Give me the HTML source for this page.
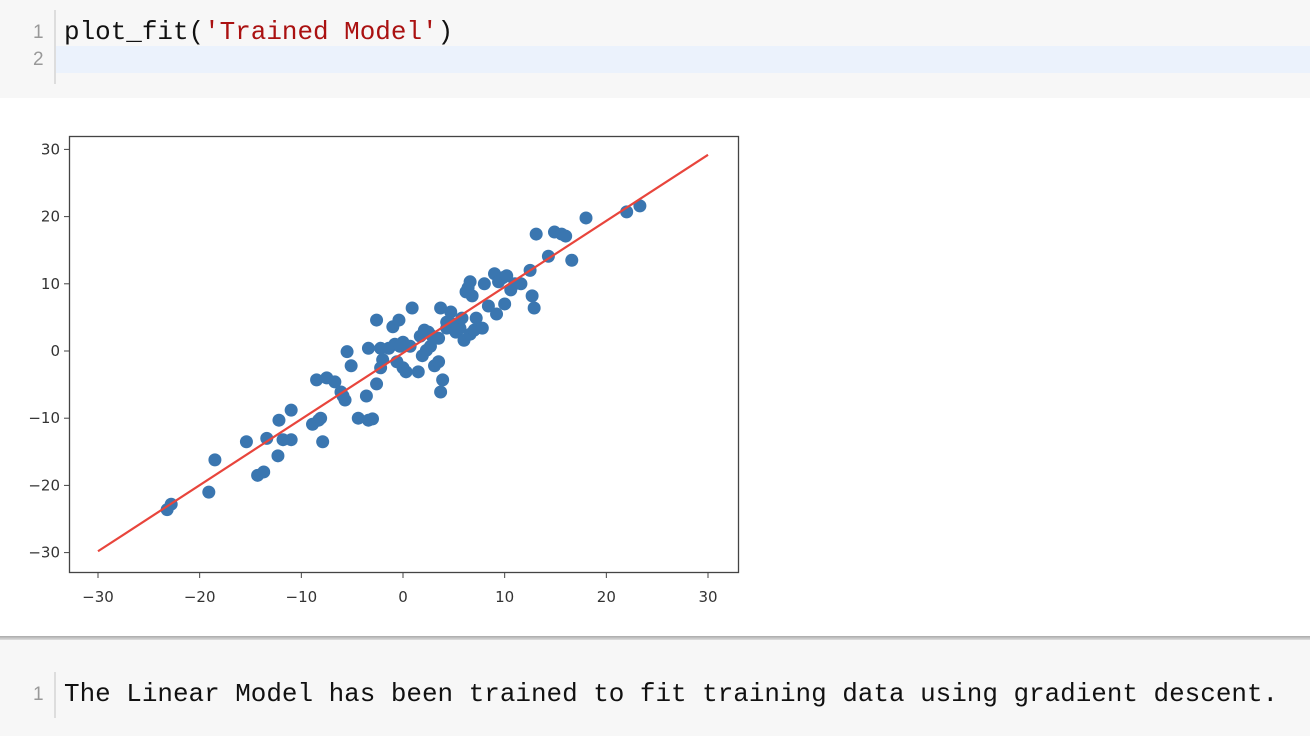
<!DOCTYPE html>
<html><head><meta charset="utf-8">
<style>
html,body{margin:0;padding:0;width:1310px;height:736px;overflow:hidden;background:#fff;font-family:"Liberation Sans",sans-serif}
.code{position:absolute;left:0;width:1310px;background:#f7f7f7;font-family:"Liberation Mono",monospace;font-size:25.95px}
.gut{position:absolute;left:54px;width:2px;background:#ddd}
.ln{position:absolute;left:33px;color:#999;font-size:19px;font-family:"Liberation Sans",sans-serif}
.txt{position:absolute;left:64px;color:#111;white-space:pre}
</style></head><body>
<div class="code" style="top:0;height:98px">
  <div style="position:absolute;left:56px;right:0;top:46px;height:27px;background:#ebf2fc"></div>
  <div class="gut" style="top:10px;height:74px"></div>
  <div class="ln" style="top:22px">1</div>
  <div class="ln" style="top:49px">2</div>
  <div class="txt" style="top:17px">plot_fit(<span style="color:#a11">'Trained Model'</span>)</div>
</div>
<div style="position:absolute;left:0;top:636px;width:1310px;height:4px;background:linear-gradient(#aaa,#ddd)"></div>
<div class="code" style="top:640px;height:96px">
  <div class="gut" style="top:32px;height:46px"></div>
  <div class="ln" style="top:44px">1</div>
  <div class="txt" style="top:39px">The Linear Model has been trained to fit training data using gradient descent.</div>
</div>
<svg id="chart" width="1310" height="636" style="position:absolute;left:0;top:0"></svg>
<script>
const xs=[-23.2,-22.8,-19.1,-18.5,-15.4,-14.3,-13.7,-13.4,-12.2,-12.3,-11.8,-11,-11,-8.9,-8.3,-8.1,-8.5,-7.9,-7.5,-6.7,-6.1,-5.9,-5.7,-5.5,-5.1,-4.4,-3.4,-3,-3.6,-3.4,-2.6,-2.6,-2.2,-2,-2.2,-1.4,-1,-0.4,-0.8,0,-0.3,-0.6,0,0.3,0.9,0.7,1.5,1.7,2.1,2.5,2.9,1.9,2.3,2.7,3.1,3.5,3.7,3.7,3.9,3.5,4.3,4.9,4.3,4.7,5.2,5.6,5.8,6,6.2,6.4,6.6,6.8,6.6,7,7.2,7.8,8,8.4,9,9.4,9.8,10.2,9.2,10,10.6,11,11.6,12.5,12.7,12.9,13.1,14.3,14.9,15.6,16,16.6,18,22,23.3];
const ys=[-23.6,-22.8,-21,-16.2,-13.5,-18.5,-18,-13,-10.3,-15.6,-13.2,-13.2,-8.8,-10.9,-10.3,-10,-4.3,-13.5,-4,-4.6,-6.1,-6.7,-7.3,-0.1,-2.2,-10,-10.3,-10.1,-6.7,0.4,4.6,-4.9,-2.5,-1.3,0.4,0.4,3.6,4.6,1,1.3,0.7,-1.6,-2.5,-3.1,6.4,0.7,-3.1,2.2,3.1,2.8,2.2,-0.7,0.1,0.7,-2.2,-1.6,6.4,-6.1,-4.3,1.9,3.4,4,4.3,5.8,2.8,3.4,4.9,1.6,8.8,9.4,10.3,8.2,2.5,3.1,4.9,3.4,10,6.7,11.5,10.3,10.9,11.2,5.5,7,9.1,10,10,12,8.2,6.4,17.4,14.1,17.7,17.4,17.1,13.5,19.8,20.7,21.6];
const lineX=[-30,30];
const lineY=[-29.8,29.2];
const xTicks=[-30,-20,-10,0,10,20,30];
const yTicks=[30,20,10,0,-10,-20,-30];
const NS="http://www.w3.org/2000/svg";
const svg=document.getElementById('chart');
const sx=v=>403+v*10.167, sy=v=>351-v*6.72;
function mk(t,a){const e=document.createElementNS(NS,t);for(const k in a)e.setAttribute(k,a[k]);svg.appendChild(e);return e;}
const frame=mk('rect',{x:69.5,y:136.5,width:669,height:436,fill:'#fff',stroke:'#444','stroke-width':1.3});


xTicks.forEach(t=>{
  const l=mk('line',{x1:sx(t),x2:sx(t),y1:573,y2:578,stroke:'#444'});
  
  
  const tx=mk('text',{x:sx(t),y:602,'text-anchor':'middle','font-size':15,'font-family':'DejaVu Sans, sans-serif',fill:'#333'});
  tx.textContent=(t<0?'\u2212'+(-t):t);
  
  
});
yTicks.forEach(t=>{
  const l=mk('line',{x1:64,x2:69,y1:sy(t),y2:sy(t),stroke:'#444'});
  
  
  const tx=mk('text',{x:60,y:sy(t)+5,'text-anchor':'end','font-size':15,'font-family':'DejaVu Sans, sans-serif',fill:'#333'});
  tx.textContent=(t<0?'\u2212'+(-t):t);
  
  
});
xs.forEach((x,i)=>{
  const c=mk('circle',{cx:sx(x),cy:sy(ys[i]),r:6.5,fill:'#3a76b0'});
  
  
});
const fl=mk('line',{x1:sx(lineX[0]),y1:sy(lineY[0]),x2:sx(lineX[1]),y2:sy(lineY[1]),stroke:'#e8453c','stroke-width':2.2});


</script>
</body></html>
